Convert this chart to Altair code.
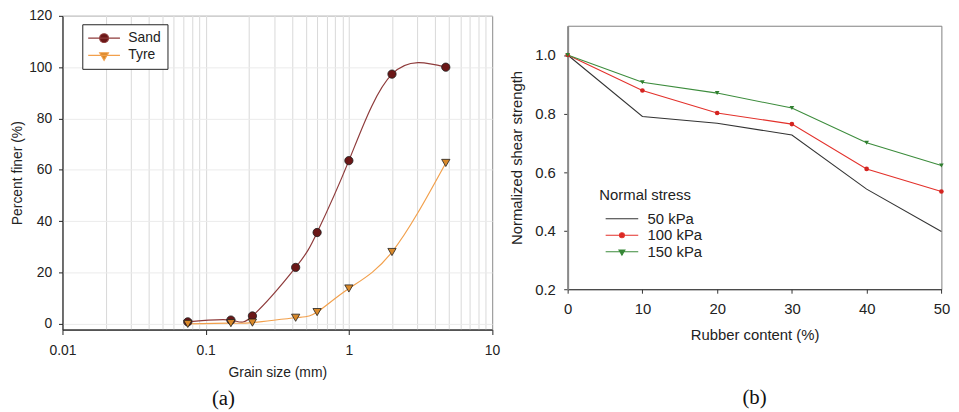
import altair as alt
import pandas as pd

# ---------------- (a) grain size distribution ----------------
grain_size = [0.075, 0.15, 0.212, 0.425, 0.6, 1.0, 2.0, 4.75]
sand_finer = [0.8, 1.5, 3.1, 22.0, 35.6, 63.6, 97.3, 100.0]
tyre_finer = [0.0, 0.3, 0.5, 2.4, 4.6, 13.8, 28.0, 62.7]
materials = ["Sand", "Tyre"]

a_y_ticks = [0, 20, 40, 60, 80, 100, 120]
a_x_grid = [0.01, 0.02, 0.03, 0.04, 0.05, 0.06, 0.07, 0.08, 0.09,
            0.1, 0.2, 0.3, 0.4, 0.5, 0.6, 0.7, 0.8, 0.9,
            1, 2, 3, 4, 5, 6, 7, 8, 9, 10]

# ---------------- (b) normalized shear strength ----------------
rubber_content = [0, 10, 20, 30, 40, 50]
ratio_50 = [1.0, 0.790, 0.767, 0.727, 0.542, 0.397]
ratio_100 = [1.0, 0.879, 0.802, 0.764, 0.611, 0.534]
ratio_150 = [1.0, 0.907, 0.870, 0.819, 0.700, 0.623]
stresses = ["50 kPa", "100 kPa", "150 kPa"]

b_x_ticks = [0, 10, 20, 30, 40, 50]
b_y_ticks = [0.2, 0.4, 0.6, 0.8, 1.0]

FONT = "Liberation Sans"
TXT = "#222222"

df_a = pd.DataFrame({
    "size": grain_size + grain_size,
    "finer": sand_finer + tyre_finer,
    "material": ["Sand"] * len(grain_size) + ["Tyre"] * len(grain_size),
})

df_b = pd.DataFrame({
    "rubber": rubber_content * 3,
    "ratio": ratio_50 + ratio_100 + ratio_150,
    "stress": sum([[s] * len(rubber_content) for s in stresses], []),
})

# ---------- panel (a) ----------
major = "abs(log(datum.value)/LN10 - round(log(datum.value)/LN10)) < 0.001"

x_a = alt.X(
    "size:Q",
    scale=alt.Scale(type="log", domain=[0.01, 10], nice=False),
    axis=alt.Axis(
        values=a_x_grid, title="Grain size (mm)",
        labelExpr=f"{major} ? format(datum.value, '~g') : ''",
        tickOpacity={"condition": {"test": major, "value": 1}, "value": 0},
        grid=True, gridColor="#d9d9d9", gridWidth=1,
        tickSize=5, labelPadding=9, titlePadding=8.7,
        domainColor=TXT, tickColor=TXT, labelFontSize=14, titleFontSize=14,
        labelOverlap=False,
    ),
)
y_a = alt.Y(
    "finer:Q",
    scale=alt.Scale(domain=[-2.2, 120], nice=False, zero=False),
    axis=alt.Axis(
        values=a_y_ticks, title="Percent finer (%)",
        grid=True, gridColor="#ebebeb",
        tickSize=4, labelPadding=6.8, titlePadding=4,
        domainColor=TXT, tickColor=TXT, labelFontSize=14, titleFontSize=14,
    ),
)

a_line_colors = ["#8e3b3b", "#f2a04c"]
a_fill_colors = ["#6b1717", "#d9892a"]

lines_a = alt.Chart(df_a).mark_line(interpolate="natural", strokeWidth=1.2).encode(
    x=x_a, y=y_a,
    stroke=alt.Stroke("material:N", scale=alt.Scale(domain=materials, range=a_line_colors), legend=None),
)
points_a = alt.Chart(df_a).mark_point(filled=True, opacity=1, size=70, strokeWidth=0.8).encode(
    x=x_a, y=y_a,
    shape=alt.Shape("material:N", scale=alt.Scale(domain=materials, range=["circle", "triangle-down"]), legend=None),
    fill=alt.Fill("material:N", scale=alt.Scale(domain=materials, range=a_fill_colors), legend=None),
    stroke=alt.value("#1e1e1e"),
)

sand_sym = "M-2.29,0L2.29,0M-0.64,0A0.64,0.64,0,1,1,0.64,0A0.64,0.64,0,1,1,-0.64,0Z"
tyre_sym = "M-2.29,0L2.29,0M-0.64,-0.37L0.64,-0.37L0,0.74Z"

leg_a = alt.Legend(
    title=None, orient="none", legendX=20, legendY=8.5, padding=6,
    strokeColor="#222222", fillColor="white", cornerRadius=0,
    symbolSize=196, symbolStrokeWidth=1.1, symbolOffset=8, labelOffset=16.4,
    labelFont=FONT, labelFontSize=14, labelColor=TXT, rowPadding=2.4,
)
legend_layer_a = alt.Chart(df_a).transform_filter("false").mark_point(filled=True, opacity=1).encode(
    shape=alt.Shape("material:N", scale=alt.Scale(domain=materials, range=[sand_sym, tyre_sym]), legend=leg_a),
    stroke=alt.Stroke("material:N", scale=alt.Scale(domain=materials, range=a_line_colors), legend=leg_a),
    fill=alt.Fill("material:N", scale=alt.Scale(domain=materials, range=a_fill_colors), legend=leg_a),
)

left = alt.layer(lines_a, points_a, legend_layer_a).resolve_scale(
    stroke="independent", fill="independent", shape="independent"
).properties(
    width=433.7, height=316.7,
    view=alt.ViewBackground(stroke="#333333"),
    title=alt.TitleParams(text="(a)", orient="bottom", anchor="middle", frame="group",
                          dx=-54.3, offset=8, font="Liberation Serif", fontSize=21,
                          fontWeight="normal", color="#111111"),
)

# ---------- panel (b) ----------
x_b = alt.X(
    "rubber:Q",
    scale=alt.Scale(domain=[0, 50], nice=False),
    axis=alt.Axis(
        values=b_x_ticks, title="Rubber content (%)", grid=False,
        tickSize=4, labelPadding=9, titlePadding=11,
        domainColor="#333333", tickColor="#333333", labelFontSize=15, titleFontSize=15,
    ),
)
y_b = alt.Y(
    "ratio:Q",
    scale=alt.Scale(domain=[0.2, 1.1], nice=False, zero=False),
    axis=alt.Axis(
        values=b_y_ticks, format=".1f", title="Normalized shear strength", grid=False,
        tickSize=4, labelPadding=8.5, titlePadding=10,
        domainColor="#8a8a8a", domainWidth=2, tickColor="#333333",
        labelFontSize=15, titleFontSize=15,
    ),
)

b_line_colors = ["#333333", "#e3312b", "#3c8c3c"]
b_fill_colors = ["transparent", "#d42420", "#2f7f2f"]

lines_b = alt.Chart(df_b).mark_line(strokeWidth=1.1).encode(
    x=x_b, y=y_b,
    stroke=alt.Stroke("stress:N", scale=alt.Scale(domain=stresses, range=b_line_colors), legend=None),
)
points_b = alt.Chart(df_b).transform_filter("datum.stress != '50 kPa'").mark_point(
    filled=True, opacity=1, size=22
).encode(
    x=x_b, y=y_b,
    shape=alt.Shape("stress:N", scale=alt.Scale(domain=stresses, range=["circle", "circle", "triangle-down"]), legend=None),
    fill=alt.Fill("stress:N", scale=alt.Scale(domain=stresses, range=["#333333", "#d42420", "#2f7f2f"]), legend=None),
)

s50_sym = "M-2.35,0L2.35,0"
s100_sym = "M-2.35,0L2.35,0M-0.36,0A0.36,0.36,0,1,1,0.36,0A0.36,0.36,0,1,1,-0.36,0Z"
s150_sym = "M-2.35,0L2.35,0M-0.43,-0.25L0.43,-0.25L0,0.5Z"

leg_b = alt.Legend(
    title="Normal stress", orient="none", legendX=32, legendY=163.9, padding=0,
    titleFont=FONT, titleFontSize=15, titleFontWeight="normal", titleColor=TXT, titlePadding=8,
    symbolSize=196, symbolStrokeWidth=1.1, symbolOffset=14.8, labelOffset=17.9,
    labelFont=FONT, labelFontSize=15, labelColor=TXT, rowPadding=0.6,
)
legend_layer_b = alt.Chart(df_b).transform_filter("false").mark_point(filled=True, opacity=1).encode(
    shape=alt.Shape("stress:N", scale=alt.Scale(domain=stresses, range=[s50_sym, s100_sym, s150_sym]), legend=leg_b),
    stroke=alt.Stroke("stress:N", scale=alt.Scale(domain=stresses, range=b_line_colors), legend=leg_b),
    fill=alt.Fill("stress:N", scale=alt.Scale(domain=stresses, range=b_fill_colors), legend=leg_b),
)

right = alt.layer(lines_b, points_b, legend_layer_b).resolve_scale(
    stroke="independent", fill="independent", shape="independent"
).properties(
    width=377.3, height=266,
    view=alt.ViewBackground(stroke="#7f7f7f"),
    title=alt.TitleParams(text="(b)", orient="bottom", anchor="middle", frame="group",
                          dx=0, offset=44.8, font="Liberation Serif", fontSize=21,
                          fontWeight="normal", color="#111111"),
)

spacer = alt.Chart(pd.DataFrame({"v": [0]})).mark_point(opacity=0).encode(
    x=alt.value(0), y=alt.value(0)
).properties(width=1, height=8.4, view=alt.ViewBackground(stroke="transparent"))

right_col = alt.vconcat(spacer, right, spacing=0)

chart = alt.hconcat(left, right_col, spacing=9).properties(
    padding={"left": 2, "top": -2, "right": 0, "bottom": 0}
).configure(font=FONT).configure_axis(
    labelFont=FONT, titleFont=FONT, titleFontWeight="normal",
    labelColor=TXT, titleColor=TXT, labelFlush=False,
)

chart.save("out.html", embed_options={"renderer": "svg", "actions": False})
